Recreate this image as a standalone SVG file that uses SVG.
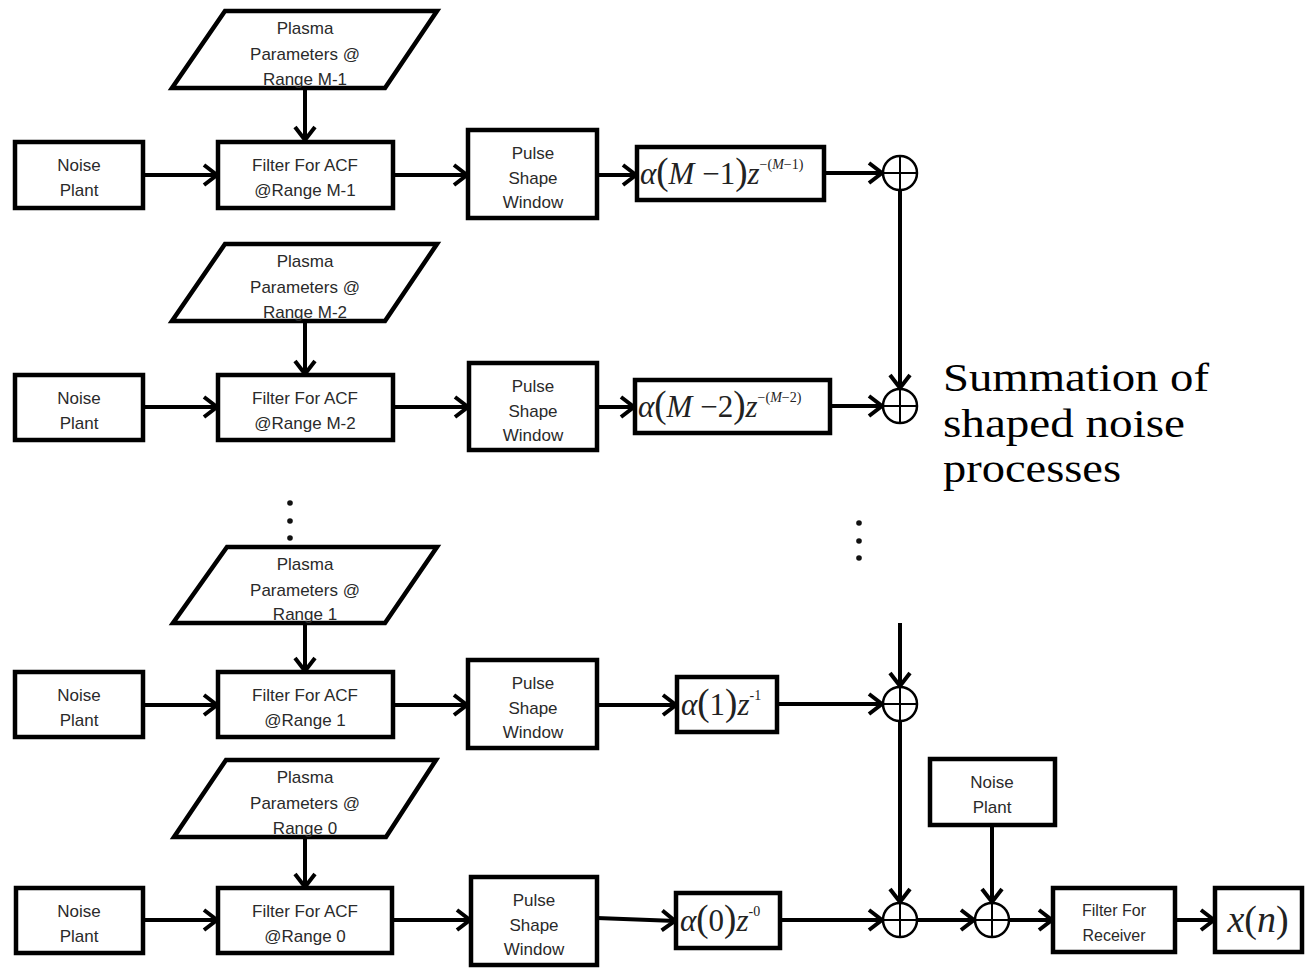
<svg xmlns="http://www.w3.org/2000/svg" width="1307" height="970" viewBox="0 0 1307 970">
<style>
.box{fill:#fff;stroke:#000;stroke-width:4.5}
.lbl{font-family:"Liberation Sans",Arial,sans-serif;font-size:17px;fill:#2a2a2a;text-anchor:middle}
.con{stroke:#000;stroke-width:4;fill:none;marker-end:url(#ah)}
.sumc{fill:#fff;stroke:#000;stroke-width:2.5}
.crs{stroke:#000;stroke-width:2}
.math{font-family:"Liberation Serif","Times New Roman",serif;font-size:31px;fill:#222}
.it{font-style:italic}
.big{font-size:37px}
.sup{font-size:14px}
.note{font-family:"Liberation Serif","Times New Roman",serif;font-size:40px;fill:#000}
.dot{fill:#111}
</style>
<defs>
<marker id="ah" markerUnits="userSpaceOnUse" markerWidth="24" markerHeight="26" refX="15" refY="10" orient="auto" overflow="visible">
<path d="M1,0 L14,10 L1,20" fill="none" stroke="#000" stroke-width="4"/>
</marker>
</defs>

<g id="connectors">
<line class="con" x1="142" y1="175" x2="218" y2="175"/>
<line class="con" x1="305" y1="89" x2="305" y2="141"/>
<line class="con" x1="393" y1="175" x2="468" y2="175"/>
<line class="con" x1="597" y1="175" x2="637" y2="175"/>
<line class="con" x1="824" y1="173" x2="883" y2="173"/>
<line class="con" x1="900" y1="190" x2="900" y2="389"/>

<line class="con" x1="143" y1="407" x2="218" y2="407"/>
<line class="con" x1="305" y1="321" x2="305" y2="375"/>
<line class="con" x1="393" y1="407" x2="469" y2="407"/>
<line class="con" x1="597" y1="407" x2="635" y2="407"/>
<line class="con" x1="830" y1="406" x2="883" y2="406"/>

<line class="con" x1="143" y1="705" x2="218" y2="705"/>
<line class="con" x1="305" y1="623" x2="305" y2="672"/>
<line class="con" x1="393" y1="705" x2="468" y2="705"/>
<line class="con" x1="597" y1="705" x2="677" y2="705"/>
<line class="con" x1="777" y1="704" x2="883" y2="704"/>
<line class="con" x1="900" y1="623" x2="900" y2="687"/>
<line class="con" x1="900" y1="721" x2="900" y2="903"/>

<line class="con" x1="143" y1="920" x2="218" y2="920"/>
<line class="con" x1="305" y1="837" x2="305" y2="888"/>
<line class="con" x1="392" y1="920" x2="471" y2="920"/>
<line class="con" x1="597" y1="918" x2="676" y2="921"/>
<line class="con" x1="780" y1="920" x2="883" y2="920"/>
<line class="con" x1="917" y1="920" x2="975" y2="920"/>
<line class="con" x1="992" y1="825" x2="992" y2="903"/>
<line class="con" x1="1009" y1="920" x2="1053" y2="920"/>
<line class="con" x1="1175" y1="920" x2="1215" y2="920"/>
</g>

<!-- Row M-1 -->
<g id="plasma-m1">
<polygon class="box" points="225,11 437,11 385,88 172,88"/>
<text class="lbl" x="305" y="34">Plasma</text>
<text class="lbl" x="305" y="60">Parameters @</text>
<text class="lbl" x="305" y="85">Range M-1</text>
</g>
<g id="noise-m1">
<rect class="box" x="15" y="142" width="128" height="66"/>
<text class="lbl" x="79" y="171">Noise</text>
<text class="lbl" x="79" y="196">Plant</text>
</g>
<g id="filter-m1">
<rect class="box" x="218" y="142" width="175" height="66"/>
<text class="lbl" x="305" y="171">Filter For ACF</text>
<text class="lbl" x="305" y="196">@Range M-1</text>
</g>
<g id="pulse-m1">
<rect class="box" x="468" y="130" width="129" height="88"/>
<text class="lbl" x="533" y="159">Pulse</text>
<text class="lbl" x="533" y="184">Shape</text>
<text class="lbl" x="533" y="208">Window</text>
</g>
<g id="alpha-m1">
<rect class="box" x="637" y="147" width="187" height="53"/>
<text class="math" x="640" y="184"><tspan class="it">α</tspan><tspan class="big">(</tspan><tspan class="it">M</tspan> −1<tspan class="big">)</tspan><tspan class="it">z</tspan><tspan class="sup" dy="-15">−(<tspan class="it">M</tspan>−1)</tspan></text>
</g>
<g id="sum-m1">
<circle class="sumc" cx="900" cy="173" r="17"/>
<line class="crs" x1="883" y1="173" x2="917" y2="173"/>
<line class="crs" x1="900" y1="156" x2="900" y2="190"/>
</g>

<!-- Row M-2 -->
<g id="plasma-m2">
<polygon class="box" points="225,244 437,244 385,321 172,321"/>
<text class="lbl" x="305" y="267">Plasma</text>
<text class="lbl" x="305" y="293">Parameters @</text>
<text class="lbl" x="305" y="318">Range M-2</text>
</g>
<g id="noise-m2">
<rect class="box" x="15" y="375" width="128" height="65"/>
<text class="lbl" x="79" y="404">Noise</text>
<text class="lbl" x="79" y="429">Plant</text>
</g>
<g id="filter-m2">
<rect class="box" x="218" y="375" width="175" height="65"/>
<text class="lbl" x="305" y="404">Filter For ACF</text>
<text class="lbl" x="305" y="429">@Range M-2</text>
</g>
<g id="pulse-m2">
<rect class="box" x="469" y="363" width="128" height="87"/>
<text class="lbl" x="533" y="392">Pulse</text>
<text class="lbl" x="533" y="417">Shape</text>
<text class="lbl" x="533" y="441">Window</text>
</g>
<g id="alpha-m2">
<rect class="box" x="635" y="380" width="195" height="53"/>
<text class="math" x="638" y="417"><tspan class="it">α</tspan><tspan class="big">(</tspan><tspan class="it">M</tspan> −2<tspan class="big">)</tspan><tspan class="it">z</tspan><tspan class="sup" dy="-15">−(<tspan class="it">M</tspan>−2)</tspan></text>
</g>
<g id="sum-m2">
<circle class="sumc" cx="900" cy="406" r="17"/>
<line class="crs" x1="883" y1="406" x2="917" y2="406"/>
<line class="crs" x1="900" y1="389" x2="900" y2="423"/>
</g>

<!-- ellipses -->
<g id="dots">
<circle class="dot" cx="290" cy="503" r="2.8"/>
<circle class="dot" cx="290" cy="521" r="2.8"/>
<circle class="dot" cx="290" cy="538" r="2.8"/>
<circle class="dot" cx="859" cy="523" r="2.8"/>
<circle class="dot" cx="859" cy="541" r="2.8"/>
<circle class="dot" cx="859" cy="558" r="2.8"/>
</g>

<!-- Row 1 -->
<g id="plasma-1">
<polygon class="box" points="227,547 437,547 385,623 173,623"/>
<text class="lbl" x="305" y="570">Plasma</text>
<text class="lbl" x="305" y="596">Parameters @</text>
<text class="lbl" x="305" y="620">Range 1</text>
</g>
<g id="noise-1">
<rect class="box" x="15" y="672" width="128" height="65"/>
<text class="lbl" x="79" y="701">Noise</text>
<text class="lbl" x="79" y="726">Plant</text>
</g>
<g id="filter-1">
<rect class="box" x="218" y="672" width="175" height="65"/>
<text class="lbl" x="305" y="701">Filter For ACF</text>
<text class="lbl" x="305" y="726">@Range 1</text>
</g>
<g id="pulse-1">
<rect class="box" x="468" y="660" width="129" height="88"/>
<text class="lbl" x="533" y="689">Pulse</text>
<text class="lbl" x="533" y="714">Shape</text>
<text class="lbl" x="533" y="738">Window</text>
</g>
<g id="alpha-1">
<rect class="box" x="677" y="677" width="100" height="55"/>
<text class="math" x="681" y="715"><tspan class="it">α</tspan><tspan class="big">(</tspan>1<tspan class="big">)</tspan><tspan class="it">z</tspan><tspan class="sup" dy="-15">-1</tspan></text>
</g>
<g id="sum-1">
<circle class="sumc" cx="900" cy="704" r="17"/>
<line class="crs" x1="883" y1="704" x2="917" y2="704"/>
<line class="crs" x1="900" y1="687" x2="900" y2="721"/>
</g>

<!-- Row 0 -->
<g id="plasma-0">
<polygon class="box" points="226,760 436,760 386,837 174,837"/>
<text class="lbl" x="305" y="783">Plasma</text>
<text class="lbl" x="305" y="809">Parameters @</text>
<text class="lbl" x="305" y="834">Range 0</text>
</g>
<g id="noise-0">
<rect class="box" x="16" y="888" width="127" height="65"/>
<text class="lbl" x="79" y="917">Noise</text>
<text class="lbl" x="79" y="942">Plant</text>
</g>
<g id="filter-0">
<rect class="box" x="218" y="888" width="174" height="65"/>
<text class="lbl" x="305" y="917">Filter For ACF</text>
<text class="lbl" x="305" y="942">@Range 0</text>
</g>
<g id="pulse-0">
<rect class="box" x="471" y="877" width="126" height="88"/>
<text class="lbl" x="534" y="906">Pulse</text>
<text class="lbl" x="534" y="931">Shape</text>
<text class="lbl" x="534" y="955">Window</text>
</g>
<g id="alpha-0">
<rect class="box" x="676" y="893" width="104" height="55"/>
<text class="math" x="680" y="931"><tspan class="it">α</tspan><tspan class="big">(</tspan>0<tspan class="big">)</tspan><tspan class="it">z</tspan><tspan class="sup" dy="-15">-0</tspan></text>
</g>
<g id="sum-0">
<circle class="sumc" cx="900" cy="920" r="17"/>
<line class="crs" x1="883" y1="920" x2="917" y2="920"/>
<line class="crs" x1="900" y1="903" x2="900" y2="937"/>
</g>
<g id="sum-noise">
<circle class="sumc" cx="992" cy="920" r="17"/>
<line class="crs" x1="975" y1="920" x2="1009" y2="920"/>
<line class="crs" x1="992" y1="903" x2="992" y2="937"/>
</g>
<g id="noise-rx">
<rect class="box" x="930" y="759" width="125" height="66"/>
<text class="lbl" x="992" y="788">Noise</text>
<text class="lbl" x="992" y="813">Plant</text>
</g>
<g id="filter-rx">
<rect class="box" x="1053" y="888" width="122" height="64"/>
<text class="lbl" x="1114" y="916" style="font-size:16px">Filter For</text>
<text class="lbl" x="1114" y="941" style="font-size:16px">Receiver</text>
</g>
<g id="output">
<rect class="box" x="1215" y="888" width="87" height="64"/>
<text class="math" x="1258" y="932" text-anchor="middle" style="font-size:38px"><tspan class="it">x</tspan>(<tspan class="it">n</tspan>)</text>
</g>

<g id="caption">
<text class="note" x="943" y="391" textLength="266" lengthAdjust="spacingAndGlyphs">Summation of</text>
<text class="note" x="943" y="437" textLength="242" lengthAdjust="spacingAndGlyphs">shaped noise</text>
<text class="note" x="943" y="482" textLength="178" lengthAdjust="spacingAndGlyphs">processes</text>
</g>
</svg>
